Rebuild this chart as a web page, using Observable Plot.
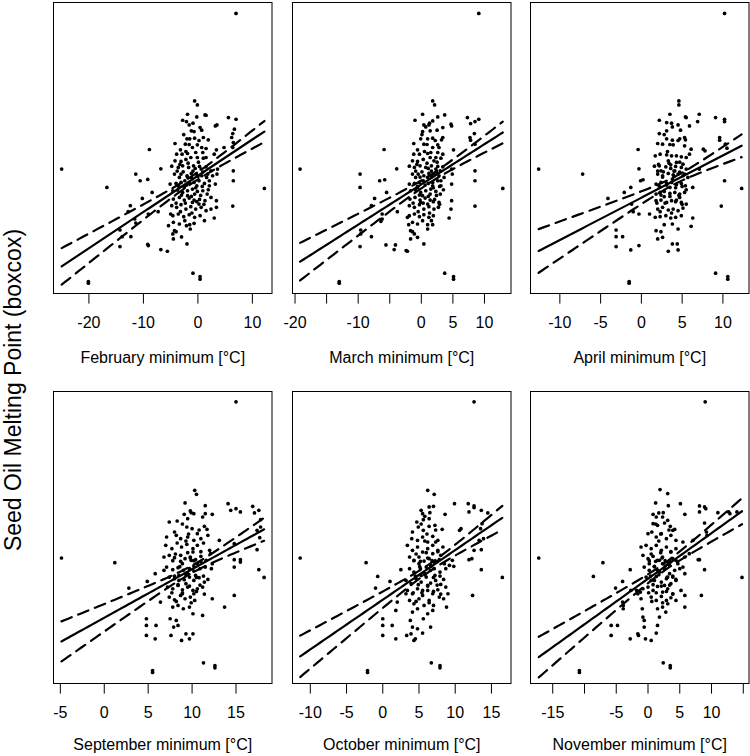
<!DOCTYPE html>
<html><head><meta charset="utf-8">
<script src="https://cdn.jsdelivr.net/npm/d3@7"></script>
<script src="https://cdn.jsdelivr.net/npm/@observablehq/plot@0.6"></script>
<style>
body{margin:0;background:#fff;overflow:hidden;}
#chart{position:relative;width:750px;height:756px;font-family:"Liberation Sans",Arial,Helvetica,sans-serif;}
#chart svg{position:absolute;overflow:visible;}
</style></head><body><div id="chart"></div>
<script>
// ---- data (x = monthly minimum temperature in °C, y = seed oil melting point, boxcox units) ----
const titles = ["February minimum [°C]","March minimum [°C]","April minimum [°C]","September minimum [°C]","October minimum [°C]","November minimum [°C]"];
const yTitle = "Seed Oil Melting Point (boxcox)";

const febPts = [[7.0,84.2],[-25.0,37.4],[12.2,31.6],[-20.1,3.6],[-20.1,3.1],[-0.9,6.1],[0.4,5.1],[0.4,4.3],[-16.7,31.9],[-8.9,43.3],[-11.4,35.9],[-10.6,33.9],[-9.2,34.3],[-6.8,37.5],[-8.4,30.4],[-10.2,28.6],[-12.4,26.4],[-12.8,24.6],[-11.6,22.4],[-11.4,21.2],[-14.3,19.1],[-13.9,17.1],[-12.3,17.1],[-14.3,14.1],[-9.2,14.8],[-9.1,14.4],[-6.8,13.2],[-5.6,12.7],[-7.3,24.6],[-9.1,23.9],[-3.0,17.0],[-2.0,14.9],[-4.5,16.4],[-4.3,18.9],[-4.0,18.6],[-5.4,20.4],[-5.0,23.9],
[5.6,52.9],[7.0,52.4],[6.7,49.4],[6.4,48.1],[6.2,46.9],[6.5,45.4],[6.4,43.9],[6.5,36.9],[6.5,33.9],[6.4,26.3],[3.5,50.7],[3.2,50.4],[1.5,53.6],[3.4,43.2],[3.0,41.9],[3.6,37.4],[3.5,35.9],[3.2,32.9],[3.4,27.9],[3.4,25.9],[3.0,22.7],[4.8,43.9],
[-0.6,57.9],[-0.1,56.7],[-1.9,53.9],[-0.2,53.1],[-2.8,52.1],[-2.1,51.7],[-1.6,50.7],[-1.2,48.9],[0.4,49.9],[0.7,49.1],[1.3,53.7],[-0.7,48.7],[-2.0,46.5],[-1.5,46.5],[-0.6,46.7],[1.0,46.9],[-4.2,45.1],[-3.2,43.2],[-2.3,44.9],[-0.1,44.7],[-3.9,41.9],[-2.9,41.9],[-1.9,42.1],[-1.0,43.9],[0.7,43.9],[1.5,43.6],[-4.2,39.9],[-3.1,39.7],[-2.2,40.3],[-1.3,40.9],[-0.1,40.9],[1.0,40.7],[-4.8,38.3],[-3.6,37.9],[-2.8,38.4],[-1.7,37.9],[-0.8,38.4],[0.3,38.2],[1.5,38.1],[2.4,36.9],[-4.3,35.9],[-3.1,35.9],[-2.0,35.4],[-1.2,36.1],[-0.3,35.9],[0.7,35.4],[1.6,34.9],[2.7,35.4],[-5.1,32.9],[-4.0,33.1],[-3.1,33.4],[-2.4,33.9],[-1.5,33.1],[-0.7,33.4],[0.2,33.9],[1.2,33.1],[2.1,32.4],[-4.6,30.9],[-3.7,31.1],[-2.8,30.4],[-1.9,30.9],[-1.0,31.4],[-0.1,30.7],[0.9,30.9],[1.7,29.9],[-4.5,28.4],[-3.4,28.9],[-2.5,28.1],[-1.6,28.7],[-0.7,28.1],[0.3,28.3],[1.3,27.9],[2.4,28.9],[-4.8,26.4],[-3.9,25.9],[-3.1,26.7],[-2.2,25.4],[-1.3,26.1],[-0.4,25.4],[0.6,25.9],[1.5,24.9],[2.4,25.4],[-4.6,23.4],[-3.6,23.9],[-2.6,23.1],[-1.6,23.7],[-0.6,22.9],[0.4,23.4],[1.2,21.9],[-4.5,21.4],[-3.4,20.9],[-2.4,21.9],[-1.5,20.7],[-0.7,21.1],[-1.4,19.4],[-2.1,20.4],[-4.6,17.9],
[-1.2,34.9],[-0.2,32.4],[0.6,37.4],[-1.9,29.4],[-0.6,29.9],[0.2,26.9],[-1.0,27.4],[-2.5,31.9],[-3.4,34.9],[0.9,42.4],[-0.4,42.4],[1.5,40.9],[1.8,35.9],[2.1,33.9],
[-2.7,36.6],[-1.8,39.2],[-0.9,36.8],[0.1,39.5],[-3.5,32.2],[-2.1,32.6],[-0.4,31.8],[0.8,32.2],[-3.0,29.6],[-1.2,29.2],[0.5,29.5],[-2.3,27.2],[-0.2,27.6],[1.1,26.8],[-3.8,36.8],[-1.6,44.8],[0.2,46.0],[-2.6,47.8],[-0.9,51.2],[1.9,31.2],[-4.0,27.2],[-1.1,24.2],[-3.2,24.6],[1.9,46.2],[0.0,35.2],[-0.5,37.6],[-1.9,35.0],[-3.3,38.8],[0.9,36.5],[-2.2,42.7]];

const marPts = [[9.1,84.2],[-19.2,37.4],[12.9,31.6],[-13.0,3.6],[-13.0,3.1],[3.7,6.1],[5.1,5.1],[5.1,4.3],
[-9.7,35.9],[-9.7,31.9],[-6.6,33.9],[-5.8,34.2],[-5.9,43.3],[-3.9,37.5],[-5.5,30.4],[-7.4,28.6],[-7.9,26.4],[-6.2,22.4],[-6.4,21.7],[-9.6,19.1],[-9.6,17.9],[-7.9,17.1],[-9.7,14.1],[-5.6,14.6],[-4.1,14.6],[-4.3,13.2],[-2.4,12.9],[-2.2,12.7],[-3.8,24.6],[-6.2,23.9],
[0.4,14.9],[-0.6,16.9],[-1.7,16.4],[-1.7,18.9],[-1.4,18.6],[-2.0,20.7],[1.0,19.4],[1.8,20.7],[-2.2,22.9],
[7.3,52.9],[7.8,51.1],[8.5,51.7],[9.1,52.4],[8.4,48.1],[7.7,46.9],[7.8,46.1],[8.5,44.9],[8.5,36.9],[8.5,33.9],[8.5,26.3],[4.8,50.4],[4.7,50.9],[3.7,53.7],[5.1,43.2],[4.8,37.4],[4.9,35.9],[4.8,32.9],[4.8,27.9],[4.7,25.4],[4.4,22.7],
[1.8,57.9],[2.1,56.7],[0.2,53.9],[2.6,53.1],[-1.0,52.1],[0.4,50.7],[1.2,50.7],[1.4,48.9],[2.5,49.1],[3.4,49.9],[1.8,51.9],[0.2,48.7],[0.7,50.1],[-0.1,46.5],[1.0,46.5],[1.8,46.7],[3.4,46.9],[-1.2,45.1],[-0.6,43.2],[0.4,44.9],[2.6,44.7],[-1.2,41.9],[-0.3,41.9],[1.0,42.1],[1.8,43.9],[2.8,43.9],[3.4,41.9],[-1.4,39.9],[-0.6,39.7],[0.3,40.3],[1.4,40.9],[2.3,40.9],[3.1,40.7],[-1.9,38.3],[-1.1,37.9],[-0.2,38.4],[0.7,37.9],[1.6,38.4],[2.6,38.2],[3.4,38.1],[-1.4,35.9],[-0.5,35.9],[0.4,35.4],[1.2,36.1],[2.0,35.9],[2.8,35.4],[3.6,34.9],[-1.9,32.9],[-1.1,33.1],[-0.3,33.4],[0.3,33.9],[1.1,33.1],[1.8,33.4],[2.6,33.9],[3.1,32.4],[-1.7,30.9],[-0.9,31.1],[-0.1,30.4],[0.7,30.9],[1.5,31.4],[2.3,30.7],[3.0,29.9],[-1.8,28.4],[-1.0,28.9],[-0.2,28.1],[0.6,28.7],[1.4,28.1],[2.1,28.3],[2.8,27.4],[-1.9,26.4],[-1.1,25.9],[-0.3,26.7],[0.4,25.4],[1.2,26.1],[2.0,25.4],[2.7,25.9],[-1.9,23.4],[-1.1,23.9],[-0.3,23.1],[0.4,23.7],[1.2,22.9],[1.9,23.4],[-1.4,21.4],[-0.6,20.9],[0.2,21.9],[1.0,20.7],[1.6,21.9],[-1.1,17.9],
[1.0,34.9],[1.8,32.4],[2.3,37.4],[0.2,29.4],[1.4,29.9],[1.0,26.9],[-0.1,27.4],[-0.6,31.9],[-0.9,34.9],[2.6,42.4],[1.5,42.4],[3.0,36.9],[3.1,33.9],[2.0,39.9],
[0.1,36.6],[0.9,39.2],[1.6,36.8],[2.5,39.5],[-0.6,32.2],[0.6,32.6],[1.9,31.8],[2.9,32.2],[-0.3,29.6],[1.1,29.2],[2.4,29.5],[0.3,27.2],[1.9,27.6],[2.9,26.8],[-0.9,36.8],[0.9,44.8],[2.2,46.0],[0.1,47.8],[1.3,51.2],[3.5,31.2],[-1.3,27.2],[1.3,24.2],[-0.5,24.6],[3.2,46.2],[1.6,35.2],[1.1,37.6],[-0.2,35.0],[-0.7,38.8],[2.4,36.5],[0.5,42.7]];

const aprPts = [[10.2,84.2],[-12.6,37.4],[12.3,31.6],[-1.5,3.6],[-1.5,3.1],[9.1,6.1],[10.6,5.1],[10.6,4.3],
[-7.2,35.9],[-4.1,28.6],[-2.1,30.4],[-1.3,31.9],[-0.4,43.3],[-0.3,37.5],[-0.1,33.9],[0.2,34.2],[-3.1,19.1],[-3.1,17.1],[-2.3,17.1],[-3.1,14.1],[-1.3,13.1],[-0.3,14.4],[-1.2,26.9],[-0.3,23.9],[-1.0,24.6],
[2.0,16.4],[2.6,16.9],[3.3,12.7],[3.8,14.9],[4.5,13.1],[4.4,14.9],[1.8,18.9],[2.4,18.6],[2.8,20.7],[3.8,20.9],[4.5,19.4],[1.0,23.9],
[9.1,52.9],[10.2,52.4],[10.2,51.7],[9.6,46.9],[9.6,46.1],[10.3,44.9],[10.5,43.7],[10.2,33.9],[9.8,26.3],[6.9,51.7],[7.1,53.9],[5.9,50.4],[5.4,53.1],[5.9,41.9],[7.6,43.4],[7.8,42.9],[7.1,37.4],[6.3,22.7],[6.1,20.2],[6.3,31.9],
[4.6,57.9],[4.6,56.7],[3.5,53.9],[2.2,52.1],[3.1,51.4],[3.8,50.1],[3.1,48.9],[4.5,50.7],[4.8,49.1],[5.5,52.9],[2.2,48.1],[3.1,46.5],[3.8,46.1],[4.7,46.5],[5.3,46.9],[2.0,45.1],[2.6,44.9],[3.9,44.7],[5.3,44.4],[6.1,43.4],[1.7,41.4],[2.3,41.9],[3.1,41.7],[3.7,41.4],[4.3,41.4],[4.9,41.1],[5.5,40.9],[1.6,38.3],[2.2,38.4],[3.0,38.1],[3.6,38.7],[4.2,38.2],[4.9,37.9],[5.5,37.4],[2.0,35.9],[2.6,35.4],[3.3,36.1],[3.9,35.7],[4.5,35.9],[5.1,35.4],[5.7,34.9],[1.8,32.9],[2.4,33.4],[3.1,33.1],[3.7,33.4],[4.3,32.7],[4.9,33.1],[5.4,32.4],[1.8,29.9],[2.3,30.4],[2.8,30.7],[3.5,30.1],[4.1,30.4],[4.7,29.9],[5.3,30.4],[1.8,27.9],[2.4,28.1],[3.1,27.4],[3.7,27.9],[4.3,28.1],[4.9,27.4],[5.5,26.9],[2.0,25.4],[2.6,25.9],[3.3,25.1],[3.9,25.4],[4.5,24.9],[5.1,25.7],[1.7,22.9],[2.3,23.1],[3.0,23.4],[3.6,22.7],[4.2,22.9],[4.9,23.4],
[4.1,36.9],[3.5,31.9],[4.7,28.9],[2.8,29.1],[3.8,34.4],[4.3,39.4],[3.3,39.9],[5.1,38.9],[5.3,35.9],[2.4,36.9],
[2.7,36.6],[3.4,39.2],[4.0,36.8],[4.7,39.5],[2.2,32.2],[3.1,32.6],[4.2,31.8],[5.0,32.2],[2.4,29.6],[3.5,29.2],[4.6,29.5],[2.9,27.2],[4.2,27.6],[5.0,26.8],[2.0,36.8],[3.5,44.8],[4.5,46.0],[2.8,47.8],[3.7,51.2],[5.5,31.2],[1.9,27.2],[3.7,24.2],[2.3,24.6],[5.4,46.2],[4.0,35.2],[3.6,37.6],[2.6,35.0],[2.1,38.8],[4.7,36.5],[3.2,42.7]];

const sepPts = [[15.0,84.4],[-4.87,37.6],[18.2,31.8],[5.5,3.9],[5.5,3.3],[11.3,6.2],[12.6,5.4],[12.6,4.7],
[1.2,36.2],[2.8,28.6],[4.9,30.6],[5.8,32.9],[4.8,19.4],[4.8,17.4],[5.9,17.4],[4.8,14.4],[5.8,13.4],[6.4,24.4],[6.8,33.9],
[10.3,57.9],[10.5,56.7],[9.2,54.1],[11.5,53.3],[7.4,48.4],[8.3,48.7],[9.1,50.7],[9.8,51.7],[10.2,50.9],[11.2,49.9],[12.3,50.7],[9.5,49.4],[8.0,45.4],[9.4,46.9],[10.0,46.4],[10.6,44.9],[11.4,47.1],[7.1,43.9],[8.2,44.4],[8.7,43.4],[9.5,43.9],[10.2,42.9],[11.0,43.4],[11.8,44.4],[7.0,41.4],[7.7,40.4],[8.3,42.1],[8.8,40.9],[9.4,41.7],[10.1,40.4],[10.6,41.4],[11.3,42.1],[12.0,39.9],[6.8,37.9],[7.4,38.4],[8.0,37.7],[8.7,38.4],[9.2,37.4],[9.8,37.9],[10.4,37.1],[11.0,38.1],[11.6,36.9],[7.1,34.9],[7.8,34.1],[8.4,34.7],[9.0,33.9],[9.7,34.4],[10.2,33.7],[10.9,34.4],[11.5,34.9],[12.2,34.4],[7.4,31.9],[8.0,31.4],[8.5,32.4],[9.1,31.1],[9.7,31.9],[10.2,30.9],[10.8,31.7],[11.4,30.4],[7.2,28.9],[7.8,28.4],[8.4,29.4],[8.9,28.1],[9.5,28.9],[10.1,27.9],[10.6,28.4],[11.2,28.9],[7.4,25.9],[8.0,25.1],[8.7,26.4],[9.2,25.4],[9.8,25.9],[10.3,24.9],[7.8,22.9],[8.4,23.4],[9.0,22.4],[9.7,22.9],[10.1,20.9],[7.5,19.4],[8.2,18.9],[7.9,16.9],[8.4,17.4],[7.6,14.4],[8.8,12.9],[9.3,14.9],[9.7,13.4],[10.1,14.9],[11.2,20.4],
[14.1,53.9],[14.4,51.9],[15.0,52.4],[15.5,51.4],[16.9,53.1],[17.1,51.1],[17.6,51.9],[17.8,49.1],[17.8,46.9],[17.4,45.9],[17.7,43.7],[17.4,40.1],[17.6,34.1],[14.8,41.9],[14.8,37.1],[15.5,37.1],[15.5,36.4],[14.8,34.9],[14.8,26.4],[13.7,22.9],[13.1,42.9],[12.3,25.4],[12.3,35.9],[12.1,38.9],[11.5,50.9],
[9.9,36.9],[9.5,32.9],[8.9,35.9],[10.4,32.4],[10.6,35.9],[9.3,29.9],[10.2,26.9],[8.5,30.9],[10.1,39.4],[8.9,26.9],
[8.7,36.6],[9.5,39.2],[10.2,36.8],[11.0,39.5],[8.0,32.2],[9.3,32.6],[10.5,31.8],[11.3,32.2],[8.4,29.6],[9.7,29.2],[10.9,29.5],[8.9,27.2],[10.5,27.6],[11.4,26.8],[7.8,36.8],[9.6,44.8],[10.8,46.0],[8.9,47.8],[9.9,51.2],[11.8,31.2],[7.7,27.2],[9.9,24.2],[8.2,24.6],[11.7,46.2],[10.2,35.2],[9.8,37.6],[8.6,35.0],[8.1,38.8],[11.0,36.5],[9.3,42.7]];

const octPts = [[12.6,84.4],[-11.4,37.6],[16.5,31.8],[-2.1,3.9],[-2.1,3.3],[6.7,6.2],[7.9,5.4],[7.9,4.7],
[-2.3,36.2],[-0.7,32.1],[-1.0,28.6],[1.0,30.6],[2.5,34.1],[0.0,19.4],[0.0,17.4],[1.3,17.4],[0.0,14.4],[1.8,13.4],[3.3,14.4],[3.9,14.9],[4.3,12.9],[4.5,13.4],[1.8,21.9],[2.0,24.4],[3.2,26.9],[3.8,18.9],[4.1,16.9],[4.8,16.4],[5.6,19.4],[5.5,15.1],
[6.2,57.9],[7.1,56.7],[6.4,52.9],[5.3,51.9],[5.8,50.1],[7.0,53.1],[4.7,48.4],[5.5,50.9],[5.6,49.1],[6.4,49.4],[8.6,50.7],[9.9,53.9],[4.1,45.4],[4.9,46.9],[5.6,45.9],[6.4,47.1],[7.2,47.4],[4.0,43.4],[4.8,42.9],[5.5,43.9],[6.2,42.4],[6.9,44.1],[7.6,42.9],[3.4,41.4],[4.1,39.9],[4.8,40.9],[5.5,39.4],[6.2,40.4],[6.9,41.4],[7.6,39.9],[8.3,40.9],[3.7,37.9],[4.3,36.9],[5.0,37.9],[5.7,36.7],[6.4,37.4],[7.1,36.4],[7.8,37.1],[8.5,35.9],[9.2,35.4],[3.7,34.4],[4.3,33.4],[5.2,34.4],[5.8,32.9],[6.6,33.9],[7.2,32.4],[7.9,33.4],[8.7,34.4],[3.2,30.9],[3.9,29.9],[4.6,31.4],[5.3,30.4],[6.0,31.9],[6.6,30.1],[7.3,30.9],[8.0,29.7],[8.7,28.9],[3.4,27.9],[4.1,26.9],[4.8,28.4],[5.5,26.4],[6.2,27.9],[6.9,26.9],[7.6,28.1],[3.7,24.9],[4.3,23.9],[5.0,25.4],[5.7,23.4],[6.4,24.9],[7.0,23.4],[7.8,25.9],[4.1,21.4],[4.8,22.4],[6.2,20.9],[6.9,21.9],[6.6,16.9],
[11.8,53.9],[12.6,53.2],[12.6,52.7],[13.6,51.9],[14.5,51.1],[11.9,51.4],[13.7,47.9],[13.5,46.4],[13.3,42.9],[13.9,43.4],[12.6,39.9],[13.6,40.1],[11.9,37.1],[12.3,37.4],[13.6,34.1],[12.4,26.4],[10.6,45.9],[10.8,46.4],[9.8,35.1],[9.0,26.9],[8.4,25.4],[8.8,22.9],[7.3,42.4],[8.0,38.4],[9.6,36.9],
[6.0,34.9],[6.6,35.4],[5.3,32.4],[6.2,29.4],[7.1,34.4],[5.5,27.9],[5.0,35.9],[6.9,38.9],
[5.2,36.6],[6.0,39.2],[6.8,36.8],[7.6,39.5],[4.5,32.2],[5.8,32.6],[7.0,31.8],[7.9,32.2],[4.9,29.6],[6.2,29.2],[7.5,29.5],[5.4,27.2],[7.0,27.6],[8.0,26.8],[4.3,36.8],[6.1,44.8],[7.3,46.0],[5.3,47.8],[6.5,51.2],[8.4,31.2],[4.2,27.2],[6.4,24.2],[4.6,24.6],[8.2,46.2],[6.7,35.2],[6.2,37.6],[5.1,35.0],[4.6,38.8],[7.5,36.5],[5.8,42.7]];

const novPts = [[9.0,84.4],[-17.2,37.6],[14.8,31.8],[-10.8,3.9],[-10.8,3.3],[2.4,6.2],[3.5,5.4],[3.5,4.7],
[-8.6,32.1],[-7.1,36.2],[-5.1,28.6],[-4.0,30.6],[-2.8,34.1],[-5.8,17.4],[-4.8,17.4],[-5.8,14.4],[-3.9,23.4],[-3.9,22.4],[-4.0,24.4],[-2.8,13.4],[-1.6,14.9],[-1.5,14.4],[-0.4,13.4],[0.5,12.9],[1.3,15.1],[1.5,17.4],[1.8,19.9],[2.8,21.4],[-0.8,19.9],[-0.6,18.9],[-0.6,16.9],[-0.9,22.4],[-1.1,25.4],[-1.8,27.9],[-1.6,26.9],[-1.2,27.4],[-0.8,28.4],[-2.7,27.9],
[1.9,58.1],[3.1,56.9],[1.2,54.1],[3.2,53.3],[5.1,53.9],[0.8,50.7],[1.7,51.1],[1.3,49.9],[2.3,49.9],[3.1,48.9],[5.8,50.7],[0.8,47.9],[1.5,47.4],[2.6,48.1],[3.5,47.1],[3.9,45.9],[0.0,44.9],[0.6,45.4],[1.3,43.9],[2.1,44.9],[2.9,43.4],[3.6,44.4],[4.4,42.9],[-1.1,40.9],[-0.3,41.4],[0.5,40.4],[1.3,41.4],[2.1,39.9],[2.9,40.9],[3.6,39.4],[4.4,40.4],[-0.8,38.4],[0.0,37.4],[0.8,38.1],[1.5,36.9],[2.3,37.9],[3.1,36.4],[3.9,37.4],[4.7,35.9],[-0.6,34.9],[0.2,33.9],[1.0,35.1],[1.8,33.4],[2.6,34.4],[3.4,32.9],[4.2,33.9],[5.0,34.4],[5.8,32.9],[-0.3,31.9],[0.5,30.9],[1.3,32.1],[2.1,30.4],[2.9,31.4],[3.6,29.9],[4.4,30.9],[0.0,28.9],[0.8,27.9],[1.5,29.1],[2.3,27.4],[3.1,28.4],[3.9,26.9],[0.5,25.9],[1.3,24.9],[2.1,26.1],[2.9,24.9],[3.6,25.7],[1.5,22.4],[2.3,22.9],[3.1,23.9],[4.4,24.9],[5.8,22.9],
[8.1,53.2],[8.1,51.4],[8.9,52.9],[9.1,52.4],[11.0,51.2],[12.7,51.4],[12.9,50.9],[8.9,48.1],[9.2,45.4],[9.3,44.4],[7.9,37.1],[8.1,37.1],[8.9,34.1],[8.4,26.4],[14.0,51.4],[5.5,42.4],[5.8,37.9],[5.5,34.9],[5.8,26.4],[5.2,27.9],[6.5,38.9],[7.1,42.9],[4.4,36.9],
[2.3,35.9],[3.1,31.9],[1.8,36.9],[1.5,33.9],[3.4,35.4],[2.6,29.4],[1.0,30.9],[3.9,31.9],[0.2,35.9],
[1.2,36.6],[2.0,39.2],[2.7,36.8],[3.6,39.5],[0.4,32.2],[1.7,32.6],[3.0,31.8],[3.9,32.2],[0.8,29.6],[2.1,29.2],[3.4,29.5],[1.3,27.2],[2.9,27.6],[3.9,26.8],[0.2,36.8],[2.0,44.8],[3.3,46.0],[1.2,47.8],[2.4,51.2],[4.4,31.2],[0.1,27.2],[2.3,24.2],[0.6,24.6],[4.2,46.2],[2.7,35.2],[2.2,37.6],[1.0,35.0],[0.5,38.8],[3.5,36.5],[1.7,42.7]];

const allPoints = [febPts, marPts, aprPts, sepPts, octPts, novPts];

// tick values and which of them R printed (labels that would overlap were dropped)
const tickValues = [[-20,-10,0,10],[-20,-15,-10,-5,0,5,10],[-10,-5,0,5,10],[-5,0,5,10,15],[-10,-5,0,5,10,15],[-15,-10,-5,0,5,10,15]];
const tickLabels = [[-20,-10,0,10],[-20,-10,0,5,10],[-10,-5,0,5,10],[-5,0,5,10,15],[-10,-5,0,5,10,15],[-15,-5,0,5,10]];
const xDomains = [[-26.5,13.6],[-20.4,14.2],[-13.6,13.2],[-5.78,19.1],[-12.46,17.7],[-18.5,15.9]];
const yDomain = [0, 87.5];

// fitted linear model per panel: intercept, slope, mean x, SE at mean, slope-SE factor
const fitIntercept = [35.4, 32.8, 28.8, 19.7, 25.1, 31.4];
const fitSlope     = [1.09, 1.21, 1.27, 1.456, 1.488, 1.366];
const fitXbar      = [-1.0, 1.5, 4.0, 10.0, 6.5, 2.5];
const fitH0        = [1.1, 1.1, 1.1, 1.1, 1.1, 1.1];
const fitK         = [0.2245, 0.268, 0.39, 0.397, 0.341, 0.304];

// ---- layout ----
const chart = document.getElementById("chart");
const FONT = '"Liberation Sans",Arial,Helvetica,sans-serif';
const colLeft = [53, 292, 529.5], colW = 218.5;
const rowTop = [2, 391], rowH = [291, 292];
const titleDy = [64, 61];
const mL = 20, mR = 2, mT = 4, mB = 76;

for (let i = 0; i < 6; i++) {
  const col = i % 3, row = Math.floor(i / 3);
  const pts = allPoints[i];
  const [xmin, xmax] = d3.extent(pts, d => d[0]);
  const xs = d3.range(0, 61).map(j => xmin + (xmax - xmin) * j / 60);
  const band = xs.map(x => {
    const f = fitIntercept[i] + fitSlope[i] * x;
    const h = Math.sqrt(fitH0[i] ** 2 + (fitK[i] * (x - fitXbar[i])) ** 2);
    return {x, fit: f, lo: f - h, hi: f + h};
  });
  const labs = tickLabels[i];
  const p = Plot.plot({
    width: mL + colW + mR,
    height: mT + rowH[row] + mB,
    marginLeft: mL, marginRight: mR, marginTop: mT, marginBottom: mB,
    x: {domain: xDomains[i], axis: null},
    y: {domain: yDomain, axis: null},
    style: {fontFamily: FONT, fontSize: "16px", background: "transparent", color: "black", overflow: "visible"},
    marks: [
      Plot.frame({stroke: "black", strokeWidth: 1}),
      Plot.axisX(tickValues[i], {tickSize: 10.6, tickPadding: 12.5, label: null,
        tickFormat: d => labs.includes(d) ? String(d) : "", fontSize: 16, stroke: "black", fill: "black"}),
      Plot.dot(pts, {x: d => d[0], y: d => d[1], r: 1.85, fill: "black", stroke: null}),
      Plot.line(band, {x: "x", y: "fit", stroke: "black", strokeWidth: 2.2}),
      Plot.line(band, {x: "x", y: "hi", stroke: "black", strokeWidth: 2.2, strokeDasharray: "11,7"}),
      Plot.line(band, {x: "x", y: "lo", stroke: "black", strokeWidth: 2.2, strokeDasharray: "11,7"}),
      Plot.text([titles[i]], {text: d => d, frameAnchor: "bottom", dy: titleDy[row], lineAnchor: "middle", fontSize: 16, fill: "black"})
    ]
  });
  p.style.left = (colLeft[col] - mL) + "px";
  p.style.top = (rowTop[row] - mT) + "px";
  chart.appendChild(p);
}

// outer y-axis title
const ysvg = d3.select(chart).append("svg")
  .attr("width", 40).attr("height", 756)
  .style("left", "0px").style("top", "0px");
ysvg.append("text")
  .attr("transform", "translate(21,390) rotate(-90)")
  .attr("text-anchor", "middle")
  .attr("font-family", FONT)
  .attr("font-size", 23)
  .attr("fill", "black")
  .text(yTitle);
</script>
</body></html>
